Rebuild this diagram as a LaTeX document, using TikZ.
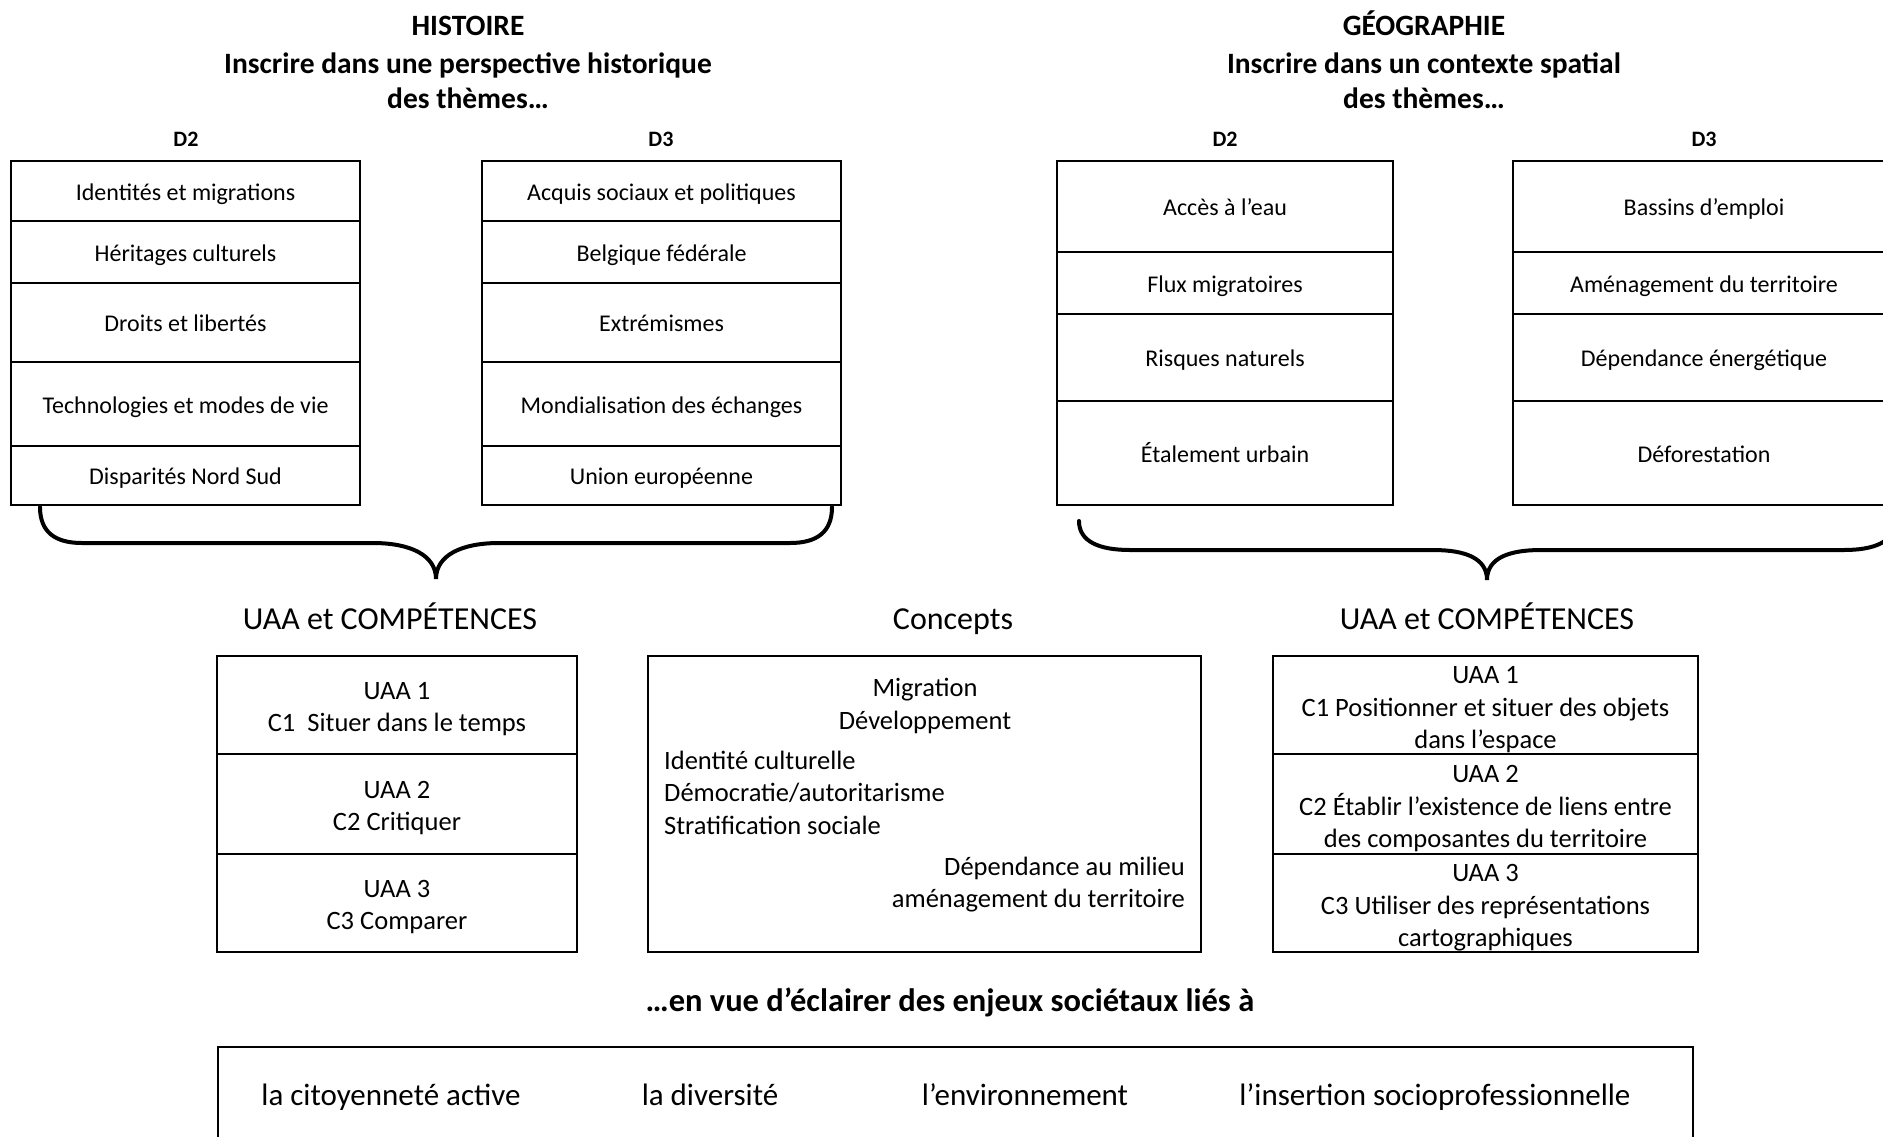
\documentclass[tikz,border=0pt]{standalone}
\usepackage{fontspec}
\setmainfont{Carlito}
\usepackage{tikz}

\tikzset{
  themebox/.style={draw, line width=2pt, inner sep=0pt, outer sep=0pt, anchor=north, text height=22pt, text depth=4pt, font=\fontsize{24}{29}\selectfont},
  headtxt/.style={inner sep=0pt, text height=22pt, text depth=7pt, font=\bfseries\fontsize{29.5}{36}\selectfont},
  dtxt/.style={inner sep=0pt, text height=16pt, text depth=5pt, font=\bfseries\fontsize{22}{26}\selectfont},
  bigtxt/.style={inner sep=0pt, text height=24pt, text depth=8pt, font=\fontsize{32}{38}\selectfont},
  uaabox/.style={draw, line width=1.5pt, inner sep=0pt, outer sep=0pt, anchor=north},
  uaatxt/.style={inner sep=0pt, align=center, font=\fontsize{26.5}{32.5}\selectfont},
  concepttxt/.style={inner sep=0pt, text height=26pt, text depth=6.5pt, font=\fontsize{26.5}{32.5}\selectfont},
  enjeutxt/.style={inner sep=0pt, text height=23pt, text depth=7.5pt, font=\fontsize{31}{37}\selectfont},
  bracepath/.style={line width=4pt, line cap=round},
}

\begin{document}
\begin{tikzpicture}[x=1pt,y=-1pt]
\useasboundingbox (0,0) rectangle (1883,1136);
\clip (0,0) rectangle (1883,1136);

% histoire
\foreach \txt/\yt [count=\i] in {HISTOIRE/28, Inscrire dans une perspective historique/66, des thèmes…/101}
  \node[headtxt] (hist\i) at (468,\yt) {\txt};
\node[dtxt] (hd2) at (186,141) {D2};
\node[dtxt] (hd3) at (661,141) {D3};
\foreach \txt/\yt/\hh [count=\i] in {Identités et migrations/161/60, Héritages culturels/221/62, Droits et libertés/283/79, Technologies et modes de vie/362/84, Disparités Nord Sud/446/59}
  \node[themebox, minimum width=349, minimum height=\hh] (hd2r\i) at (185.5,\yt) {\txt};
\foreach \txt/\yt/\hh [count=\i] in {Acquis sociaux et politiques/161/60, Belgique fédérale/221/62, Extrémismes/283/79, Mondialisation des échanges/362/84, Union européenne/446/59}
  \node[themebox, minimum width=359, minimum height=\hh] (hd3r\i) at (661.5,\yt) {\txt};

% geographie
\foreach \txt/\yt [count=\i] in {GÉOGRAPHIE/28, Inscrire dans un contexte spatial/66, des thèmes…/101}
  \node[headtxt] (geo\i) at (1424,\yt) {\txt};
\node[dtxt] (gd2) at (1225,141) {D2};
\node[dtxt] (gd3) at (1704,141) {D3};
\foreach \txt/\yt/\hh [count=\i] in {Accès à l’eau/161/91, Flux migratoires/252/62, Risques naturels/314/87, Étalement urbain/401/104}
  \node[themebox, minimum width=336, minimum height=\hh] (gd2r\i) at (1225,\yt) {\txt};
\foreach \txt/\yt/\hh [count=\i] in {Bassins d’emploi/161/91, Aménagement du territoire/252/62, Dépendance énergétique/314/87, Déforestation/401/104}
  \node[themebox, minimum width=382, minimum height=\hh] (gd3r\i) at (1704,\yt) {\txt};

% accolades
\coordinate (hbl) at (40,507);
\coordinate (hbt) at (436,579);
\coordinate (hbr) at (832,507);
\draw[bracepath] (hbl) .. controls (40,532) and (55,543) .. (82,543) -- (373,543)
  .. controls (410,543) and (436,555) .. (hbt) .. controls (436,555) and (462,543) .. (499,543)
  -- (790,543) .. controls (817,543) and (832,532) .. (hbr);
\coordinate (gbl) at (1079,521);
\coordinate (gbt) at (1487,580);
\coordinate (gbr) at (1895,521);
\draw[bracepath] (gbl) .. controls (1079,542) and (1100,550) .. (1130,550) -- (1433,550)
  .. controls (1465,550) and (1487,558) .. (gbt) .. controls (1487,558) and (1509,550) .. (1541,550)
  -- (1844,550) .. controls (1874,550) and (1895,542) .. (gbr);

% UAA et concepts
\node[bigtxt] (uaahist) at (390,621.5) {UAA et COMPÉTENCES};
\node[bigtxt] (concepts) at (953,621.5) {Concepts};
\node[bigtxt] (uaageo) at (1487,621.5) {UAA et COMPÉTENCES};

\foreach \txt/\yt/\hh [count=\i] in {{UAA 1\\C1\ \ Situer dans le temps}/656/98, {UAA 2\\C2 Critiquer}/754/100, {UAA 3\\C3 Comparer}/854/98} {
  \node[uaabox, minimum width=360, minimum height=\hh] (uh\i) at (397,\yt) {};
  \node[uaatxt] (uht\i) at ([yshift=-4pt]uh\i.center) {\txt};
}
\foreach \txt/\yt/\hh [count=\i] in {{UAA 1\\C1 Positionner et situer des objets\\dans l’espace}/656/98, {UAA 2\\C2 Établir l’existence de liens entre\\des composantes du territoire}/754/100, {UAA 3\\C3 Utiliser des représentations\\cartographiques}/854/98} {
  \node[uaabox, minimum width=425, minimum height=\hh] (ug\i) at (1485.5,\yt) {};
  \node[uaatxt] (ugt\i) at ([yshift=-5pt]ug\i.center) {\txt};
}

\node[uaabox, minimum width=553, minimum height=296] (concbox) at (924.5,656) {};
\foreach \txt/\yt [count=\i] in {Migration/687, Développement/720}
  \node[concepttxt] (cc\i) at (925,\yt) {\txt};
\foreach \txt/\yt [count=\i] in {Identité culturelle/760, {Démocratie/autoritarisme}/792, Stratification sociale/825}
  \node[concepttxt, anchor=west] (cl\i) at (664,\yt) {\txt};
\foreach \txt/\yt [count=\i] in {Dépendance au milieu/866, aménagement du territoire/898}
  \node[concepttxt, anchor=east] (cr\i) at (1185,\yt) {\txt};

% enjeux
\node[headtxt, font=\bfseries\fontsize{32.5}{39}\selectfont] (envue) at (950,1003.5) {…en vue d’éclairer des enjeux sociétaux liés à};
\node[draw, line width=2pt, inner sep=0pt, outer sep=0pt, anchor=north west, minimum width=1475, minimum height=200] (enjbox) at (218,1047) {};
\node[enjeutxt] (e1) at (391,1097.5) {la citoyenneté active};
\node[enjeutxt] (e2) at (710,1097.5) {la diversité};
\node[enjeutxt] (e3) at (1025,1097.5) {l’environnement};
\node[enjeutxt] (e4) at (1435,1097.5) {l’insertion socioprofessionnelle};

\end{tikzpicture}
\end{document}
